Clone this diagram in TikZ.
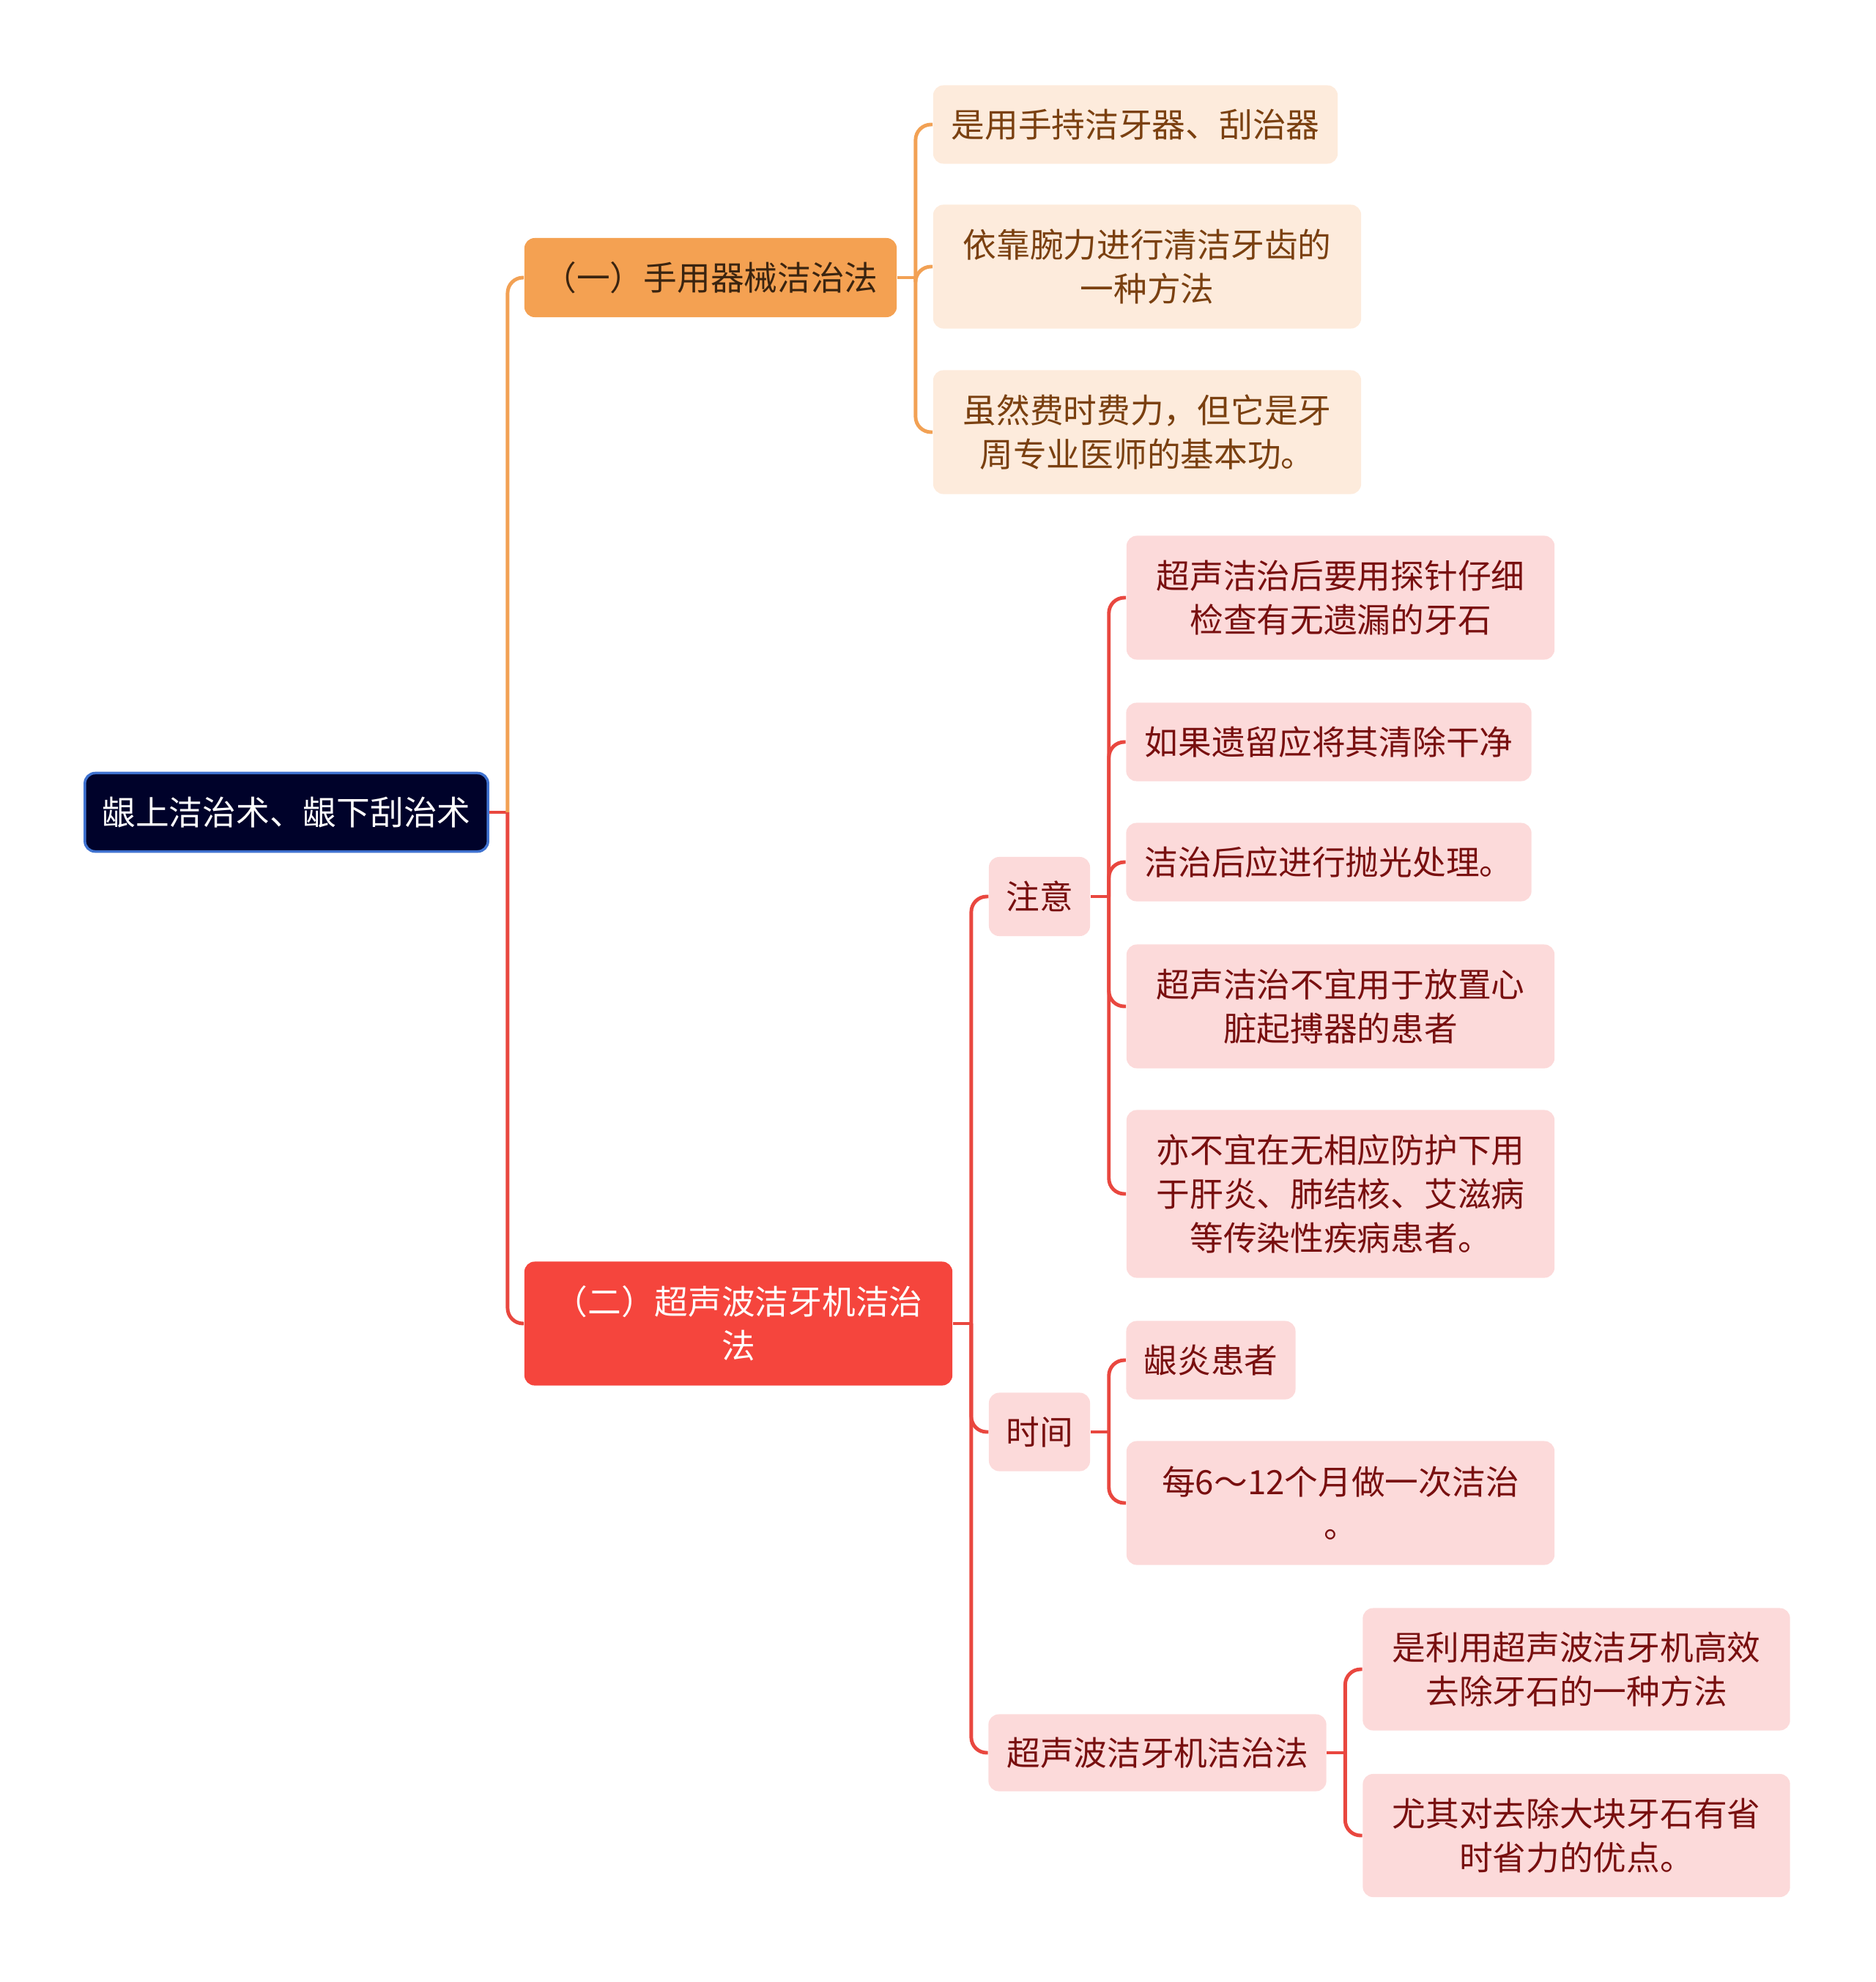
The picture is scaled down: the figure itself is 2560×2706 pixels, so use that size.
\documentclass[tikz,border=0pt]{standalone}
\usepackage{fontspec}
\newfontfamily\cjk{Noto Sans CJK SC}
\usetikzlibrary{positioning}
\definecolor{mmroot}{HTML}{00022A}
\definecolor{mmrootline}{HTML}{3F72D0}
\definecolor{mmorange}{HTML}{F4A152}
\definecolor{mmorline}{HTML}{F2A154}
\definecolor{mmorlight}{HTML}{FDEBDC}
\definecolor{mmortext}{HTML}{7A4010}
\definecolor{mmorhead}{HTML}{3A2410}
\definecolor{mmred}{HTML}{F5453D}
\definecolor{mmrdline}{HTML}{E9473F}
\definecolor{mmrdlight}{HTML}{FCDADA}
\definecolor{mmrdtext}{HTML}{780F0F}
\tikzset{
  box/.style    = {rectangle, rounded corners=4pt, inner sep=0pt, align=center,
                   font=\cjk\fontsize{13pt}{17pt}\selectfont, minimum height=1.07cm},
  rootbox/.style = {box, fill=mmroot, draw=mmrootline, line width=1pt, text=white},
  orhead/.style = {box, fill=mmorange, text=mmorhead},
  orleaf/.style = {box, fill=mmorlight, text=mmortext},
  rdhead/.style = {box, fill=mmred, text=white},
  rdleaf/.style = {box, fill=mmrdlight, text=mmrdtext},
  orline/.style = {draw=mmorline, line width=1.4pt, rounded corners=6pt},
  rdline/.style = {draw=mmrdline, line width=1.4pt, rounded corners=6pt},
}
\begin{document}
\begin{tikzpicture}[x=0.01cm,y=-0.01cm]
  \useasboundingbox (0,0) rectangle (2560,2706);
  % root and the two methods
  \node[rootbox,minimum width=5.5cm] (root) at (391,1109) {龈上洁治术、龈下刮治术};
  \node[orhead,minimum width=5.08cm,minimum height=1.08cm] (g1) at (970,379) {（一）手用器械洁治法};
  \node[rdhead,minimum width=5.84cm,minimum height=1.69cm] (g2) at (1008,1807) {（二）超声波洁牙机洁治\\法};
  % hand instruments
  \node[orleaf,minimum width=5.52cm] (a1) at (1550,170) {是用手持洁牙器、刮治器};
  \node[orleaf,minimum width=5.84cm,minimum height=1.69cm] (a2) at (1566,364) {依靠腕力进行清洁牙齿的\\一种方法};
  \node[orleaf,minimum width=5.84cm,minimum height=1.69cm] (a3) at (1566,590) {虽然费时费力，但它是牙\\周专业医师的基本功。};
  % ultrasonic
  \node[rdleaf,minimum width=1.38cm,minimum height=1.08cm] (b1) at (1419,1224) {注意};
  \node[rdleaf,minimum width=1.38cm] (b2) at (1419,1955) {时间};
  \node[rdleaf,minimum width=4.61cm,minimum height=1.05cm] (b3) at (1580,2393) {超声波洁牙机洁治法};
  \node[rdleaf,minimum width=5.84cm,minimum height=1.69cm] (c1) at (1830,816) {超声洁治后要用探针仔细\\检查有无遗漏的牙石};
  \node[rdleaf,minimum width=5.53cm] (c2) at (1814,1013) {如果遗留应将其清除干净};
  \node[rdleaf,minimum width=5.53cm] (c3) at (1814,1177) {洁治后应进行抛光处理。};
  \node[rdleaf,minimum width=5.84cm,minimum height=1.69cm] (c4) at (1830,1374) {超声洁治不宜用于放置心\\脏起搏器的患者};
  \node[rdleaf,minimum width=5.84cm,minimum height=2.29cm] (c5) at (1830,1630) {亦不宜在无相应防护下用\\于肝炎、肺结核、艾滋病\\等传染性疾病患者。};
  \node[rdleaf,minimum width=2.31cm] (d1) at (1653,1857) {龈炎患者};
  \node[rdleaf,minimum width=5.84cm,minimum height=1.69cm] (d2) at (1830,2052) {每6～12个月做一次洁治\\。};
  \node[rdleaf,minimum width=5.83cm,minimum height=1.67cm] (e1) at (2152,2279) {是利用超声波洁牙机高效\\去除牙石的一种方法};
  \node[rdleaf,minimum width=5.83cm,minimum height=1.68cm] (e2) at (2152,2506) {尤其对去除大块牙石有省\\时省力的优点。};
  % connectors
  \draw[rdline] (root.east) -- ++(25,0) coordinate (rt);
  \draw[orline] (rt) |- (g1.west);
  \draw[rdline] (rt) |- (g2.west);
  \draw[orline] (g1.east) -- ++(25,0) coordinate (g1t);
  \foreach \c in {a1,a2,a3}
    \draw[orline] (g1t) |- (\c.west);
  \foreach \p/\kids in {g2/{b1,b2,b3}, b1/{c1,c2,c3,c4,c5}, b2/{d1,d2}, b3/{e1,e2}}{
    \draw[rdline] (\p.east) -- ++(25,0) coordinate (\p t);
    \foreach \c in \kids
      \draw[rdline] (\p t) |- (\c.west);
  }
\end{tikzpicture}
\end{document}
